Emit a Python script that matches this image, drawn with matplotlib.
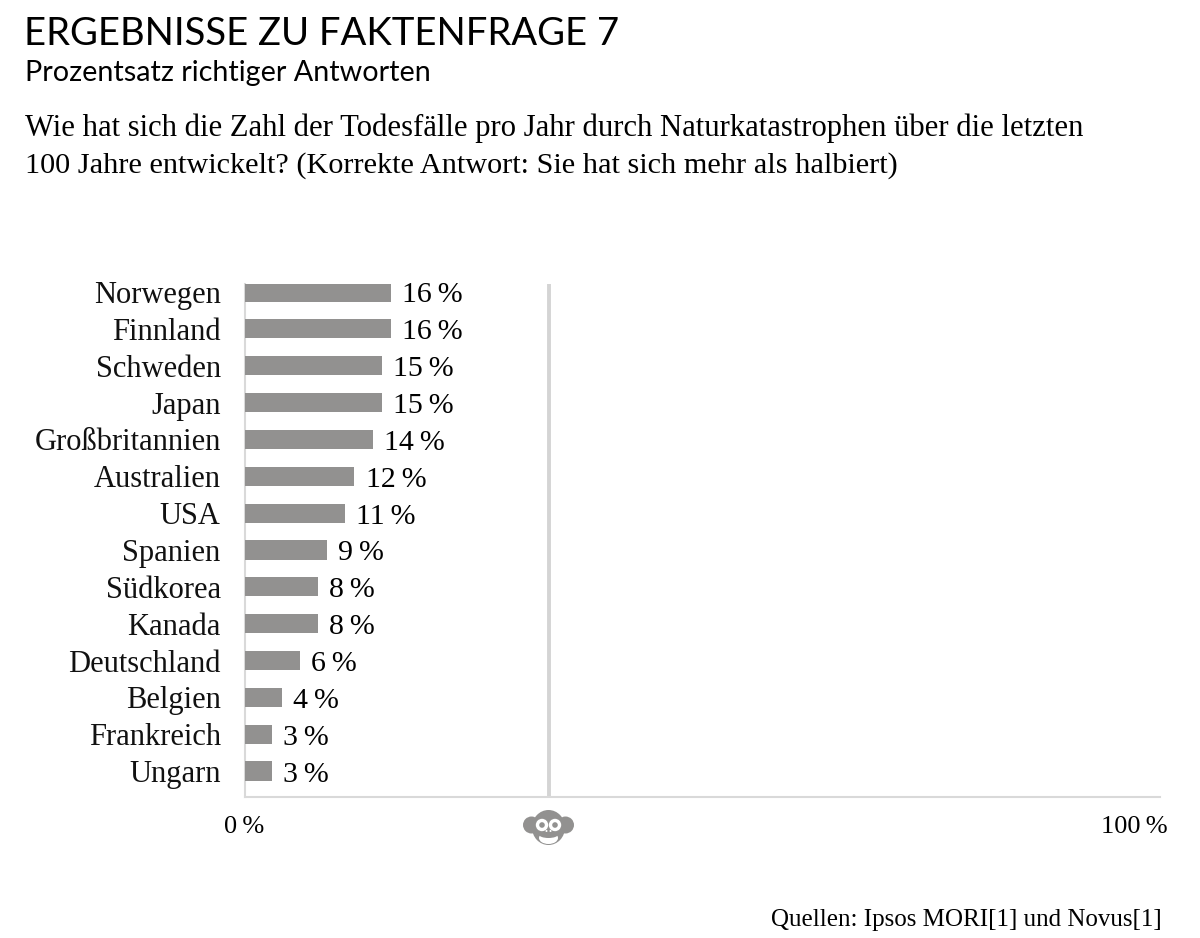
import matplotlib
matplotlib.use("Agg")
import matplotlib.pyplot as plt
from matplotlib.patches import Circle, Ellipse

laender = ["Norwegen", "Finnland", "Schweden", "Japan", "Großbritannien", "Australien", "USA",
           "Spanien", "Südkorea", "Kanada", "Deutschland", "Belgien", "Frankreich", "Ungarn"]
werte = [16, 16, 15, 15, 14, 12, 11, 9, 8, 8, 6, 4, 3, 3]
zufall = 100 / 3  # the chimp line: random guess among three answers
x_labels = ["0\u2009%", "100\u2009%"]

W, H = 1200, 938
GRAU = "#929190"
LINIE = "#d9d9d9"
SERIF = "Liberation Serif"
SANS = "Lato"

fig = plt.figure(figsize=(W / 100, H / 100), dpi=100, facecolor="white")

# plot area in pixels
left, right, top, bottom = 245, 1160, 284, 797
ax = fig.add_axes([left / W, 1 - bottom / H, (right - left) / W, (bottom - top) / H])
step = 36.85
ax.set_xlim(0, (right - left) / 9.125)
ax.set_ylim((bottom - 292) / step, -(292 - top) / step)

ax.barh(range(len(laender)), werte, height=0.52, color=GRAU, linewidth=0, zorder=3)
ax.axvline(zufall, color="#d4d4d4", lw=2.8, zorder=2)

for i, v in enumerate(werte):
    ax.annotate(f"{v}\u2009%", (v, i), xytext=(8, -2.5), textcoords="offset points",
                va="center", ha="left", fontsize=21.5, family=SERIF, color="black")

ax.set_yticks(range(len(laender)))
ax.set_yticklabels(laender, fontsize=22, family=SERIF, color="#111111")
ax.tick_params(axis="y", length=0, pad=17.5)
ax.set_xticks([])

for s in ["top", "right"]:
    ax.spines[s].set_visible(False)
for s in ["left", "bottom"]:
    ax.spines[s].set_color(LINIE)
    ax.spines[s].set_linewidth(1.5)

# overlay in pixel coords for texts and the icon
ov = fig.add_axes([0, 0, 1, 1], facecolor="none")
ov.set_xlim(0, W)
ov.set_ylim(H, 0)
ov.axis("off")

ov.text(24, 45, "ERGEBNISSE ZU FAKTENFRAGE 7", fontsize=27.5, family=SANS,
        color="black", va="baseline")
ov.text(25, 81, "Prozentsatz richtiger Antworten", fontsize=20.7, family=SANS, color="black", va="baseline")
ov.text(25, 136, "Wie hat sich die Zahl der Todesfälle pro Jahr durch Naturkatastrophen über die letzten",
        fontsize=22.1, family=SERIF, va="baseline")
ov.text(25, 173, "100 Jahre entwickelt? (Korrekte Antwort: Sie hat sich mehr als halbiert)",
        fontsize=21.8, family=SERIF, va="baseline")

ov.text(244, 827, x_labels[0], fontsize=19, family=SERIF, ha="center", va="center")
ov.text(1168, 827, x_labels[1], fontsize=19, family=SERIF, ha="right", va="center")
ov.text(1162, 920, "Quellen: Ipsos MORI[1] und Novus[1]", fontsize=18, family=SERIF, ha="right", va="center")

# chimp icon under the random-guess line
cx, cy = 548.5, 827
for dx in (-17, 17):
    ov.add_patch(Circle((cx + dx, cy - 2), 8.5, color=GRAU, lw=0))
ov.add_patch(Ellipse((cx, cy + 0.5), 33, 35, color=GRAU, lw=0))
for dx in (-6.5, 6.5):
    ov.add_patch(Circle((cx + dx, cy - 2), 6.2, color="white", lw=0))
    ov.add_patch(Circle((cx + dx, cy - 2), 2.8, color=GRAU, lw=0))
ov.add_patch(Ellipse((cx, cy + 11), 19, 12, color="white", lw=0))
ov.add_patch(Ellipse((cx, cy + 7.5), 19, 7, color=GRAU, lw=0))
for dx in (-2, 2):
    ov.add_patch(Circle((cx + dx, cy + 4), 1, color="white", lw=0))

fig.savefig("out.png", dpi=100, facecolor="white")
